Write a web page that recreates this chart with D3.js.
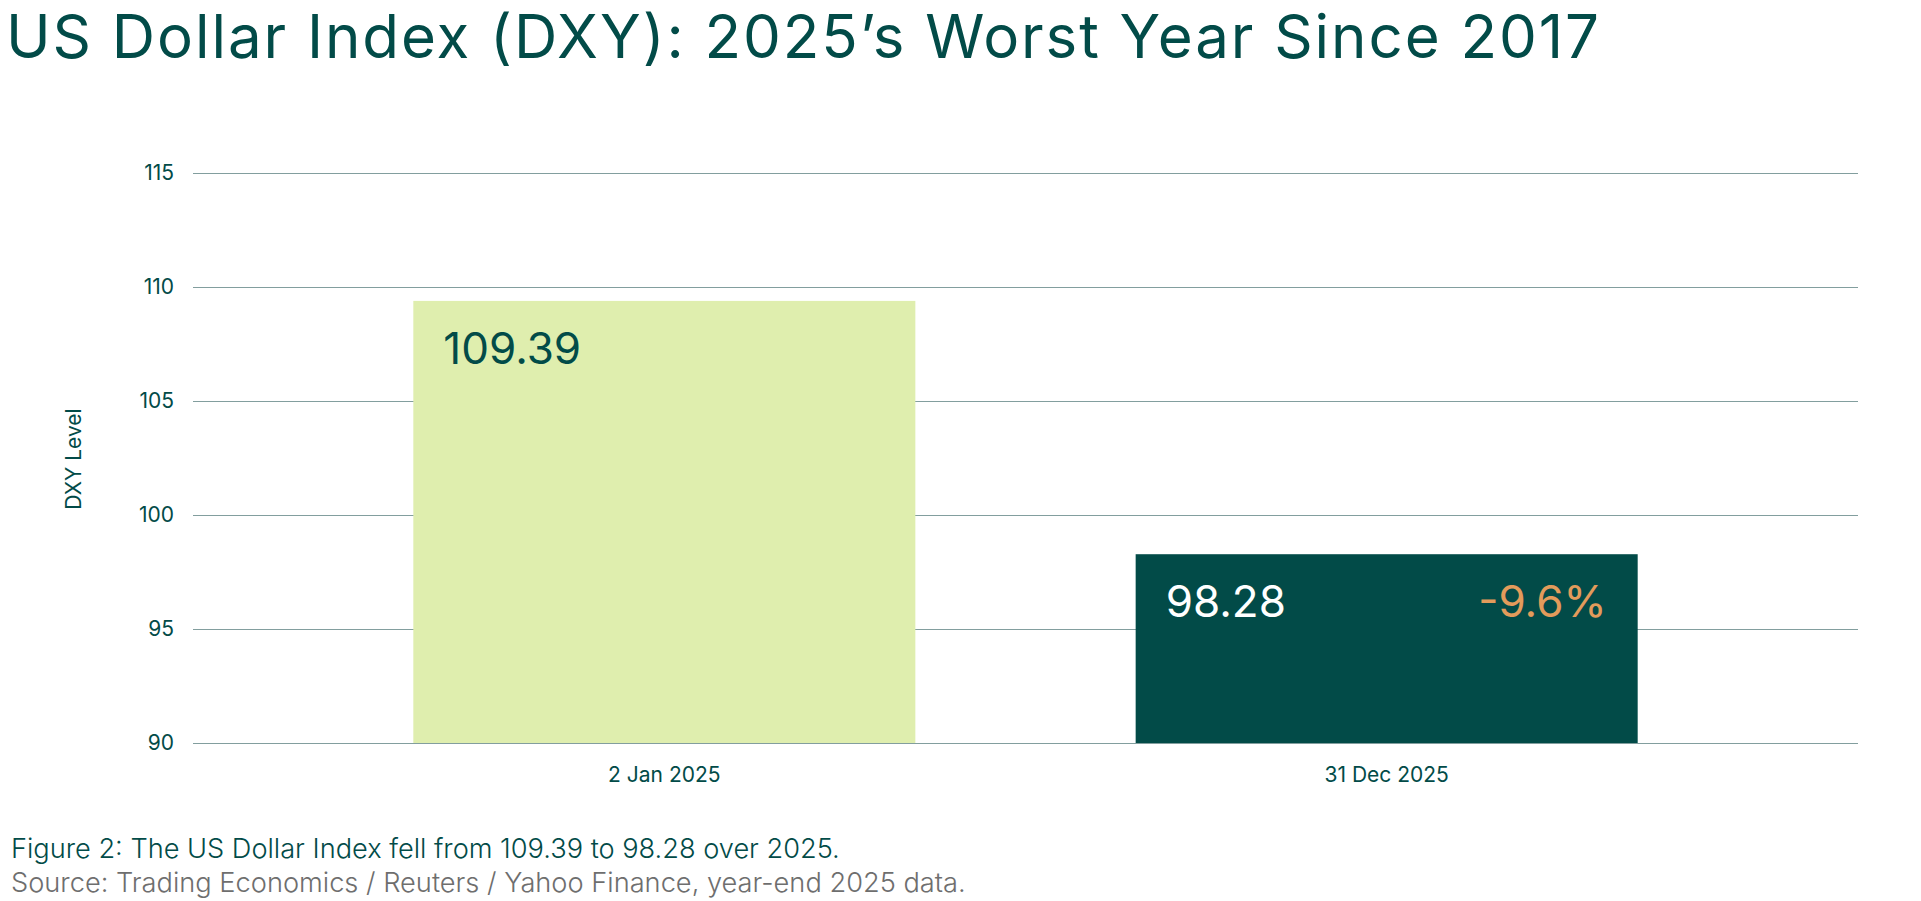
<!DOCTYPE html>
<html>
<head>
<meta charset="utf-8">
<script src="https://cdn.jsdelivr.net/npm/d3@7"></script>
<style>
  html, body { margin: 0; padding: 0; background: #ffffff; }
  svg { display: block; }
  text { font-family: Inter, "Noto Sans", sans-serif; }
</style>
</head>
<body>
<svg id="chart" width="1921" height="901"></svg>
<script>
const categories = ["2 Jan 2025", "31 Dec 2025"];
const values = [109.39, 98.28];
const valueLabels = ["109.39", "98.28"];
const changeLabel = "-9.6%";
const yTicks = [90, 95, 100, 105, 110, 115];
const titleText = "US Dollar Index (DXY): 2025\u2019s Worst Year Since 2017";
const yAxisTitle = "DXY Level";
const captionText = "Figure 2: The US Dollar Index fell from 109.39 to 98.28 over 2025.";
const sourceText = "Source: Trading Economics / Reuters / Yahoo Finance, year-end 2025 data.";

const DARK = "#024b48";
const LIGHT = "#dfeeae";
const ORANGE = "#e39b5b";
const GRID = "#829e9e";
const GREY = "#6e6e6e";

const svg = d3.select("#chart");

const x = d3.scaleBand().domain(categories).range([193, 1858]).padding(0.305);
const y = d3.scaleLinear().domain([90, 115]).range([743, 173]);

function fitWidth(sel, target) {
  const w = sel.node().getComputedTextLength();
  const fs = parseFloat(sel.attr("font-size"));
  sel.attr("font-size", fs * target / w);
}
function fitSpacing(sel, target) {
  const txt = sel.text();
  const w = sel.node().getComputedTextLength();
  const ls = (target - w) / Math.max(1, txt.length - 1);
  sel.attr("letter-spacing", ls);
}

// Title
const title = svg.append("text")
  .attr("x", 6).attr("y", 58)
  .attr("font-size", 60).attr("fill", DARK)
  .text(titleText);
fitSpacing(title, 1593);

// Gridlines
svg.append("g").selectAll("line").data(yTicks).join("line")
  .attr("x1", 193).attr("x2", 1858)
  .attr("y1", d => y(d) + 0.5).attr("y2", d => y(d) + 0.5)
  .attr("stroke", GRID).attr("stroke-width", 1.2);

// Y axis tick labels
const yAxis = d3.axisLeft(y).tickValues(yTicks).tickSize(0).tickPadding(0).tickFormat(d3.format("d"));
const gy = svg.append("g").attr("transform", "translate(174,0)").call(yAxis);
gy.select(".domain").remove();
gy.selectAll("text").attr("font-size", 21).attr("fill", DARK)
  .attr("font-family", "Inter, 'Noto Sans', sans-serif");

// Y axis title
svg.append("text")
  .attr("transform", "translate(81,459) rotate(-90)")
  .attr("text-anchor", "middle")
  .attr("font-size", 21).attr("fill", DARK)
  .text(yAxisTitle);

// Bars
const colors = [LIGHT, DARK];
svg.append("g").selectAll("rect").data(values).join("rect")
  .attr("x", (d, i) => x(categories[i]))
  .attr("width", x.bandwidth())
  .attr("y", d => y(d))
  .attr("height", d => y(90) - y(d))
  .attr("fill", (d, i) => colors[i]);

// Baseline redraw on top
svg.append("line")
  .attr("x1", 193).attr("x2", 1858)
  .attr("y1", y(90) + 0.5).attr("y2", y(90) + 0.5)
  .attr("stroke", GRID).attr("stroke-width", 1.2);

// Value labels inside bars
const labelColors = [DARK, "#ffffff"];
svg.append("g").selectAll("text").data(values).join("text")
  .attr("x", (d, i) => x(categories[i]) + 30)
  .attr("y", d => y(d) + 63)
  .attr("font-size", 44)
  .attr("fill", (d, i) => labelColors[i])
  .text((d, i) => valueLabels[i]);

// Change label
svg.append("text")
  .attr("x", x(categories[1]) + x.bandwidth() - 31)
  .attr("y", y(values[1]) + 63)
  .attr("text-anchor", "end")
  .attr("font-size", 44)
  .attr("fill", ORANGE)
  .text(changeLabel);

// X axis labels
const xAxis = d3.axisBottom(x).tickSize(0).tickPadding(0);
const gx = svg.append("g").attr("transform", "translate(0,767)").call(xAxis);
gx.select(".domain").remove();
gx.selectAll("text").attr("font-size", 21).attr("fill", DARK)
  .attr("dy", "0.72em")
  .attr("font-family", "Inter, 'Noto Sans', sans-serif");

// Caption
const cap = svg.append("text")
  .attr("x", 11).attr("y", 858)
  .attr("font-size", 25).attr("fill", DARK)
  .attr("font-weight", 300)
  .text(captionText);
fitWidth(cap, 829);

const src = svg.append("text")
  .attr("x", 11).attr("y", 892)
  .attr("font-size", 25).attr("fill", GREY)
  .attr("font-weight", 300)
  .text(sourceText);
fitWidth(src, 955);
</script>
</body>
</html>
